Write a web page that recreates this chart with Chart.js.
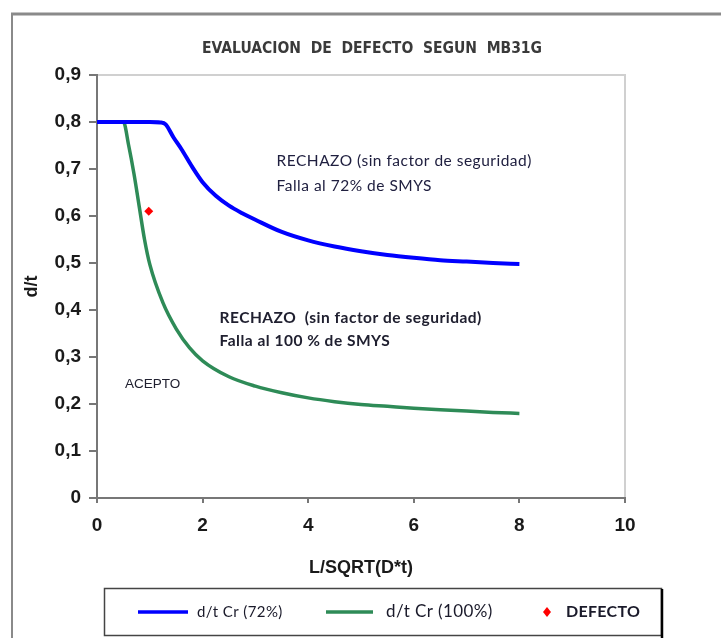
<!DOCTYPE html>
<html><head><meta charset="utf-8">
<script src="https://cdn.jsdelivr.net/npm/chart.js@4.4.1/dist/chart.umd.min.js"></script>
<style>html,body{margin:0;padding:0;background:#fff;overflow:hidden}canvas{display:block}</style>
</head><body>
<canvas id="c" width="721" height="638"></canvas>
<script>
// ---- data ----
const chartTitle = 'EVALUACION  DE  DEFECTO  SEGUN  MB31G';
const xAxisTitle = 'L/SQRT(D*t)';
const yAxisTitle = 'd/t';
const seriesNames = ['d/t Cr (72%)', 'd/t Cr (100%)', 'DEFECTO'];
const xTickValues = [0, 2, 4, 6, 8, 10];
const xTickLabels = ['0', '2', '4', '6', '8', '10'];
const yTickValues = [0, 0.1, 0.2, 0.3, 0.4, 0.5, 0.6, 0.7, 0.8, 0.9];
const yTickLabels = ['0', '0,1', '0,2', '0,3', '0,4', '0,5', '0,6', '0,7', '0,8', '0,9'];
const x72 = [0, 0.5, 1.0, 1.2, 1.3, 1.45, 1.6, 1.8, 2.0, 2.25, 2.5, 2.75, 3.0, 3.5, 4.0, 4.5, 5.0, 5.5, 6.0, 6.5, 7.0, 7.5, 8.0];
const y72 = [0.8, 0.8, 0.8, 0.799, 0.795, 0.767, 0.742, 0.705, 0.672, 0.643, 0.622, 0.606, 0.592, 0.566, 0.548, 0.535, 0.525, 0.517, 0.511, 0.506, 0.503, 0.5, 0.498];
const x100 = [0, 0.5, 0.6, 0.7, 0.8, 0.9, 1.0, 1.25, 1.5, 1.75, 2.0, 2.5, 3.0, 3.5, 4.0, 4.5, 5.0, 5.5, 6.0, 6.5, 7.0, 7.5, 8.0];
const y100 = [0.8, 0.8, 0.75, 0.69, 0.62, 0.55, 0.497, 0.415, 0.36, 0.32, 0.292, 0.258, 0.238, 0.224, 0.213, 0.205, 0.199, 0.195, 0.191, 0.188, 0.185, 0.182, 0.18];
const defectX = [0.98];
const defectY = [0.61];
const noteTexts = ['RECHAZO (sin factor de seguridad)', 'Falla al 72% de SMYS',
  'RECHAZO  (sin factor de seguridad)', 'Falla al 100 % de SMYS', 'ACEPTO'];

const toPts = (xs, ys) => xs.map((x, i) => ({x: x, y: ys[i]}));
const colors = ['#0000ff', '#2e8b57', '#ff0000'];

// annotation placement (in data coordinates)
const notePlacement = [
  {i: 0, x: 3.4, y: 0.717, font: '15.5px Lato, "Open Sans", sans-serif', ls: '0.5px', color: '#202040'},
  {i: 1, x: 3.4, y: 0.664, font: '15.5px Lato, "Open Sans", sans-serif', ls: '0.5px', color: '#202040'},
  {i: 2, x: 2.32, y: 0.383, font: 'bold 15.5px Lato, "Open Sans", sans-serif', ls: '0.5px', color: '#202030'},
  {i: 3, x: 2.32, y: 0.334, font: 'bold 15.5px Lato, "Open Sans", sans-serif', ls: '0.5px', color: '#202030'},
  {i: 4, x: 0.53, y: 0.243, font: '13.5px "Liberation Sans", Arial, sans-serif', ls: '0px', color: '#202030'}
];

function setLS(ctx, v) { try { ctx.letterSpacing = v; } catch (e) {} }

const decor = {
  id: 'decor',
  beforeDraw(chart) {
    const ctx = chart.ctx, a = chart.chartArea;
    ctx.save();
    ctx.fillStyle = '#fff';
    ctx.fillRect(0, 0, chart.width, chart.height);
    // outer frame
    ctx.strokeStyle = '#8a8a8a';
    ctx.lineWidth = 3;
    ctx.beginPath(); ctx.moveTo(11, 14); ctx.lineTo(chart.width, 14); ctx.stroke();
    ctx.lineWidth = 2;
    ctx.beginPath(); ctx.moveTo(12, 14); ctx.lineTo(12, chart.height); ctx.stroke();
    // plot area border (top/right)
    ctx.strokeStyle = '#d0d0d0';
    ctx.lineWidth = 2;
    ctx.beginPath(); ctx.moveTo(a.left, a.top); ctx.lineTo(a.right, a.top); ctx.lineTo(a.right, a.bottom); ctx.stroke();
    ctx.restore();
  },
  afterDraw(chart) {
    const ctx = chart.ctx, xs = chart.scales.x, ys = chart.scales.y;
    ctx.save();
    // title
    ctx.font = 'bold 15.5px "Liberation Sans Narrow", "DejaVu Sans Condensed", sans-serif';
    ctx.fillStyle = '#3a3a3a';
    ctx.textAlign = 'center';
    ctx.textBaseline = 'middle';
    ctx.fillText(chartTitle, 372, 49);
    // annotations
    ctx.textAlign = 'left';
    notePlacement.forEach(n => {
      ctx.font = n.font;
      setLS(ctx, n.ls);
      ctx.fillStyle = n.color;
      ctx.fillText(noteTexts[n.i], xs.getPixelForValue(n.x), ys.getPixelForValue(n.y));
    });
    setLS(ctx, '0px');
    // legend box
    ctx.strokeStyle = '#444';
    ctx.lineWidth = 1.5;
    ctx.strokeRect(104.5, 588.5, 557, 47);
    ctx.strokeStyle = '#000';
    ctx.lineWidth = 2.5;
    ctx.beginPath(); ctx.moveTo(662, 589); ctx.lineTo(662, 638); ctx.stroke();
    const ly = 612;
    ctx.lineWidth = 3.5;
    ctx.strokeStyle = colors[0];
    ctx.beginPath(); ctx.moveTo(138, ly); ctx.lineTo(188, ly); ctx.stroke();
    ctx.strokeStyle = colors[1];
    ctx.beginPath(); ctx.moveTo(326, ly); ctx.lineTo(373, ly); ctx.stroke();
    ctx.fillStyle = colors[2];
    ctx.beginPath(); ctx.moveTo(547, ly - 5); ctx.lineTo(551, ly); ctx.lineTo(547, ly + 5); ctx.lineTo(543, ly); ctx.closePath(); ctx.fill();
    ctx.fillStyle = '#1a1a2a';
    ctx.textBaseline = 'middle';
    ctx.font = '15px Lato, "Open Sans", sans-serif';
    setLS(ctx, '0.4px');
    ctx.fillText(seriesNames[0], 197, ly);
    ctx.font = '17px Lato, "Open Sans", sans-serif';
    setLS(ctx, '0.4px');
    ctx.fillText(seriesNames[1], 386, ly);
    ctx.font = 'bold 16px Lato, "Open Sans", sans-serif';
    setLS(ctx, '0.3px');
    ctx.fillText(seriesNames[2], 566, ly);
    ctx.restore();
  }
};

const tickFont = {family: '"Liberation Sans", Arial, sans-serif', size: 19, weight: 'bold'};
const axisTitleFont = {family: '"Liberation Sans", Arial, sans-serif', size: 18, weight: 'bold'};

new Chart(document.getElementById('c'), {
  type: 'scatter',
  data: {
    datasets: [
      {label: seriesNames[0], data: toPts(x72, y72), showLine: true, borderColor: colors[0], backgroundColor: colors[0],
       borderWidth: 4, pointRadius: 0, cubicInterpolationMode: 'monotone'},
      {label: seriesNames[1], data: toPts(x100, y100), showLine: true, borderColor: colors[1], backgroundColor: colors[1],
       borderWidth: 3.5, pointRadius: 0, cubicInterpolationMode: 'monotone'},
      {label: seriesNames[2], data: toPts(defectX, defectY), showLine: false, pointStyle: 'rectRot',
       pointRadius: 4.5, backgroundColor: colors[2], borderColor: colors[2], borderWidth: 0}
    ]
  },
  options: {
    responsive: false,
    animation: false,
    devicePixelRatio: 1,
    layout: {padding: {left: 0, top: 75, right: 96, bottom: 0}},
    plugins: {legend: {display: false}, tooltip: {enabled: false}, title: {display: false}},
    scales: {
      x: {
        type: 'linear', min: 0, max: 10,
        afterFit(s) { s.height = 140; },
        afterBuildTicks(s) { s.ticks = xTickValues.map(v => ({value: v})); },
        ticks: {font: tickFont, color: '#1a1a1a', padding: 11, maxRotation: 0,
                callback: (v, i) => xTickLabels[i]},
        grid: {display: true, drawOnChartArea: false, drawTicks: true, tickLength: 5, color: '#777', lineWidth: 2},
        border: {display: true, color: '#777', width: 2},
        title: {display: true, text: xAxisTitle, color: '#1a1a1a', padding: {top: 0, bottom: 59}, font: axisTitleFont}
      },
      y: {
        type: 'linear', min: 0, max: 0.9,
        afterFit(s) { s.width = 97; },
        afterBuildTicks(s) { s.ticks = yTickValues.map(v => ({value: v})); },
        ticks: {font: tickFont, color: '#1a1a1a', padding: 8,
                callback: (v, i) => yTickLabels[i]},
        grid: {display: true, drawOnChartArea: false, drawTicks: true, tickLength: 8, color: '#777', lineWidth: 2},
        border: {display: true, color: '#777', width: 2},
        title: {display: true, text: yAxisTitle, color: '#1a1a1a', padding: {top: 21, bottom: 0}, font: axisTitleFont}
      }
    }
  },
  plugins: [decor]
});
</script>
</body></html>
